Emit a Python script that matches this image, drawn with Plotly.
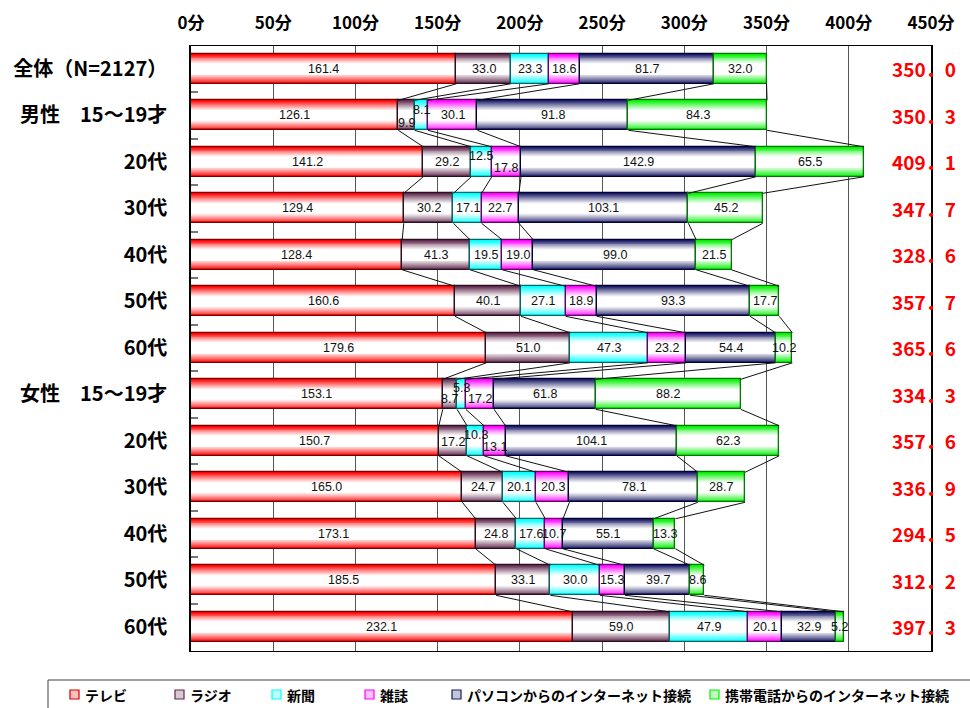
import plotly.graph_objects as go

# ---------------- data ----------------
categories = ["全体（N=2127）", "男性　15～19才", "20代", "30代", "40代", "50代", "60代",
              "女性　15～19才", "20代", "30代", "40代", "50代", "60代"]
series_names = ["テレビ", "ラジオ", "新聞", "雑誌",
                "パソコンからのインターネット接続", "携帯電話からのインターネット接続"]
tv = [161.4, 126.1, 141.2, 129.4, 128.4, 160.6, 179.6, 153.1, 150.7, 165.0, 173.1, 185.5, 232.1]
radio = [33.0, 9.9, 29.2, 30.2, 41.3, 40.1, 51.0, 8.7, 17.2, 24.7, 24.8, 33.1, 59.0]
newspaper = [23.3, 8.1, 12.5, 17.1, 19.5, 27.1, 47.3, 5.3, 10.3, 20.1, 17.6, 30.0, 47.9]
magazine = [18.6, 30.1, 17.8, 22.7, 19.0, 18.9, 23.2, 17.2, 13.1, 20.3, 10.7, 15.3, 20.1]
pc_internet = [81.7, 91.8, 142.9, 103.1, 99.0, 93.3, 54.4, 61.8, 104.1, 78.1, 55.1, 39.7, 32.9]
mobile_internet = [32.0, 84.3, 65.5, 45.2, 21.5, 17.7, 10.2, 88.2, 62.3, 28.7, 13.3, 8.6, 5.2]
total_labels = ["350．0", "350．3", "409．1", "347．7", "328．6", "357．7", "365．6",
                "334．3", "357．6", "336．9", "294．5", "312．2", "397．3"]
tick_values = [0, 50, 100, 150, 200, 250, 300, 350, 400, 450]
tick_labels = ["0分", "50分", "100分", "150分", "200分", "250分", "300分", "350分", "400分", "450分"]

# ---------------- style ----------------
series_values = [tv, radio, newspaper, magazine, pc_internet, mobile_internet]
base_colors = [(255, 0, 0), (96, 40, 76), (0, 255, 255), (255, 0, 255), (26, 26, 102), (0, 240, 0)]
outline_colors = ["#7a0000", "#2a0f20", "#006666", "#660066", "#000033", "#007a00"]
# vertical label offsets (px) for crowded small segments: (row, series) -> yshift
label_shift = {(1, 1): -8, (1, 2): 5, (2, 2): 6, (2, 3): -6,
               (7, 1): -5, (7, 2): 6, (7, 3): -5, (8, 2): 6, (8, 3): -6, (8, 1): -1}
FONT = "Noto Sans CJK JP"
BAR_W = 0.645

ys = list(range(len(categories)))
n = len(ys)

# cumulative starts
starts = []
acc = [0.0] * n
for vals in series_values:
    starts.append(acc[:])
    acc = [a + v for a, v in zip(acc, vals)]

fig = go.Figure()

# connector lines between adjacent bars (from segment boundaries)
cx, cy = [], []
for i in range(n - 1):
    for s in range(len(series_values)):
        e1 = starts[s][i] + series_values[s][i]
        e2 = starts[s][i + 1] + series_values[s][i + 1]
        cx += [e1, e2, None]
        cy += [i + BAR_W / 2, i + 1 - BAR_W / 2, None]
fig.add_trace(go.Scatter(x=cx, y=cy, mode="lines", line=dict(color="#111", width=1),
                         hoverinfo="skip", showlegend=False))


def mix(c, t):
    # t = 1 -> full colour, 0 -> white
    r, g, b = [round(255 + (ch - 255) * t) for ch in c]
    return f"rgb({r},{g},{b})"


LAYERS = 12
for s, vals in enumerate(series_values):
    for j in range(LAYERS):
        d = 1.0 - j * (0.68 / (LAYERS - 1))
        t = max(0.0, (d - 0.36) / 0.64) ** 1.1
        fig.add_trace(go.Bar(
            y=ys, x=vals, base=starts[s], orientation="h", width=BAR_W * d,
            marker=dict(color=mix(base_colors[s], t), line=dict(width=0)),
            hoverinfo="skip", showlegend=False))
    fig.add_trace(go.Bar(
        y=ys, x=vals, base=starts[s], orientation="h", width=BAR_W,
        marker=dict(color="rgba(0,0,0,0)", line=dict(color=outline_colors[s], width=1.3)),
        name=series_names[s], showlegend=False, hoverinfo="x+name"))

annotations = []
# value labels
for s, vals in enumerate(series_values):
    for i, v in enumerate(vals):
        annotations.append(dict(
            x=starts[s][i] + v / 2, y=ys[i], xref="x", yref="y", text=f"{v:.1f}",
            showarrow=False, yshift=label_shift.get((i, s), 0),
            font=dict(family="Liberation Sans", size=12.5, color="#111")))

# totals on the right
for i, lab in enumerate(total_labels):
    annotations.append(dict(
        x=1.0365, y=ys[i], xref="paper", yref="y", xanchor="right", text=lab,
        showarrow=False, font=dict(family=FONT, size=19, color="#ff0000", weight="bold")))

# ---- manual legend ----
PL, PW, PB, PH = 191, 740, 651, 605


def px2x(p):
    return (p - PL) / PW


def px2y(p):
    return (PB - p) / PH


shapes = [dict(type="rect", xref="paper", yref="paper", x0=px2x(48), x1=px2x(985),
               y0=px2y(715), y1=px2y(680), line=dict(color="#404040", width=1),
               fillcolor="rgba(0,0,0,0)", layer="above")]
marker_x = [70, 175, 272, 365, 452, 710]
for s, name in enumerate(series_names):
    mx = marker_x[s]
    shapes.append(dict(type="rect", xref="paper", yref="paper",
                       x0=px2x(mx), x1=px2x(mx + 9), y0=px2y(699), y1=px2y(690),
                       fillcolor=mix(base_colors[s], 0.25),
                       line=dict(color=mix(base_colors[s], 1.0) if s != 0 else "#d00000", width=1.2),
                       layer="above"))
    annotations.append(dict(x=px2x(mx + 13), y=px2y(694.5), xref="paper", yref="paper",
                            xanchor="left", yanchor="middle", text=name, showarrow=False,
                            font=dict(family=FONT, size=14, color="#000", weight="bold")))

fig.update_layout(
    width=970, height=708,
    margin=dict(l=PL, r=970 - PL - PW, t=46, b=708 - PB, autoexpand=False),
    barmode="overlay", bargap=0,
    plot_bgcolor="white", paper_bgcolor="white",
    showlegend=False,
    annotations=annotations, shapes=shapes,
    xaxis=dict(side="top", range=[0, 450], tickvals=tick_values, ticktext=tick_labels,
               showgrid=True, gridcolor="#555", gridwidth=1, zeroline=False,
               showline=True, linecolor="#000", linewidth=1, mirror=True,
               ticks="", ticklabelstandoff=9, automargin=False,
               tickfont=dict(family=FONT, size=17, color="#000", weight="bold")),
    yaxis=dict(range=[12.52, -0.49], tickvals=ys, ticktext=categories,
               showgrid=False, zeroline=False, showline=True, linecolor="#000",
               linewidth=1.5, mirror=True, ticks="", ticklabelstandoff=18, automargin=False,
               tickfont=dict(family=FONT, size=20, color="#000", weight="bold"),
               minor=dict(tickvals=[k + 0.5 for k in ys[:-1]], ticks="inside",
                          ticklen=7, tickcolor="#777", tickwidth=2)),
)

fig.write_html("out.html", config={"displayModeBar": False},
               post_script="document.body.style.margin='0';document.body.style.overflow='hidden';")
